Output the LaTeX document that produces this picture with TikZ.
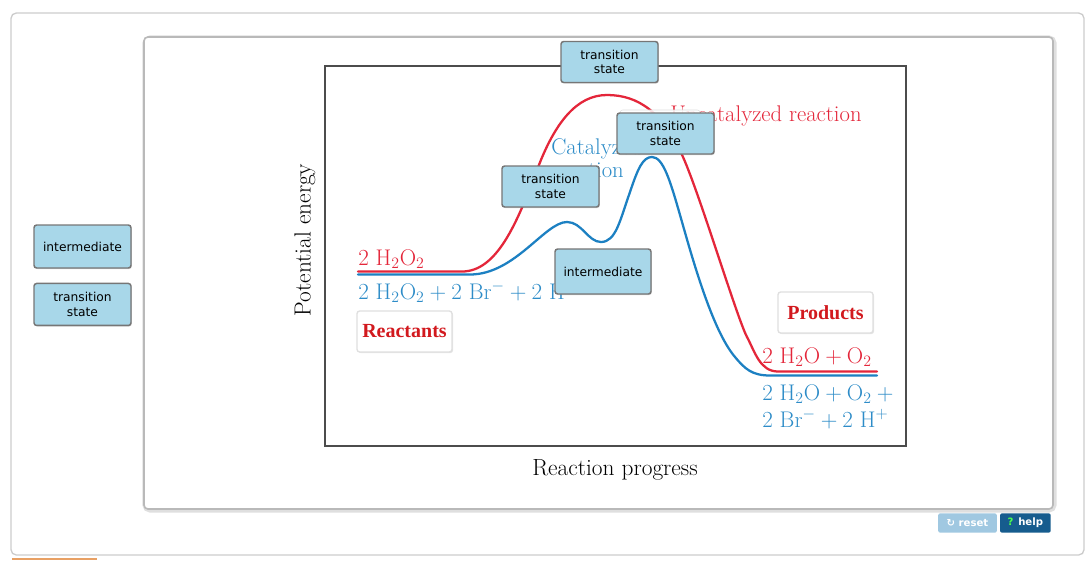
\documentclass[tikz,border=0pt]{standalone}
\usepackage{amsmath}
\usepackage{fontspec}
\usepackage{tikz}
\usetikzlibrary{
    positioning,   % Relative positioning
    shadows,       % Shadows under the label boxes
    backgrounds    % Background layers
}
\newfontfamily\boxfont{DejaVu Sans}
\newfontfamily\timesfont{Liberation Serif}
\definecolor{uncatred}{RGB}{228,38,58}
\definecolor{catblue}{RGB}{28,128,194}
\definecolor{labblue}{RGB}{45,140,200}
\definecolor{tsfill}{RGB}{168,215,233}
\definecolor{boxedge}{RGB}{118,118,118}
\definecolor{darkred}{RGB}{210,25,30}
\definecolor{helpblue}{RGB}{22,92,142}
\definecolor{resetblue}{RGB}{160,200,225}
\definecolor{tabline}{RGB}{232,160,100}

\tikzset{
    tsbox/.style={draw=boxedge, fill=tsfill, line width=1.1pt, rounded corners=2pt,
        align=center, font=\boxfont\fontsize{9.2}{11}\selectfont, inner sep=1pt,
        drop shadow={shadow xshift=0.6pt, shadow yshift=-0.8pt, opacity=0.35},
        minimum width=72.75pt, minimum height=30.75pt},
    dropbox/.style={draw=gray!25, fill=white, line width=1pt, rounded corners=2pt,
        drop shadow={shadow xshift=0.8pt, shadow yshift=-0.8pt, opacity=0.2},
        minimum width=71.25pt, minimum height=30.75pt,
        font=\timesfont\bfseries\fontsize{15}{18}\selectfont, text=darkred},
    chem/.style={anchor=base west, inner sep=0pt, font=\fontsize{17}{20}\selectfont},
    curve/.style={line width=1.7pt, line cap=round},
    axislabel/.style={font=\fontsize{17.5}{21}\selectfont, inner sep=0pt}
}

\begin{document}
\begin{tikzpicture}[x=0.75pt, y=-0.75pt]
    \useasboundingbox (0,0) rectangle (1088,561);

    % page frame and panel
    \draw[gray!40, line width=1pt, rounded corners=4pt] (11,13) rectangle (1084,555);
    \draw[tabline, line width=1.5pt] (12,559) -- (97,559);
    \draw[gray!25, line width=4pt, rounded corners=4pt] (145,38) rectangle (1054,510);
    \draw[gray!55, line width=1.2pt, rounded corners=3pt, fill=white] (144,37) rectangle (1053,509);

    % plot area
    \draw[black!70, line width=0.9pt] (325,66) rectangle (906,446);
    \node[axislabel, rotate=90] (ylab) at (305,240) {Potential energy};
    \node[axislabel] (xlab) at (615,470) {Reaction progress};

    % uncatalyzed reaction
    \draw[curve, uncatred] (358,271.5) -- (462,271.5)
        .. controls (497,271.5) and (517,223) .. (537,170)
        .. controls (555,122) and (577,95) .. (607,95)
        .. controls (638,95) and (663,112) .. (683,157)
        .. controls (700,195) and (737,318) .. (747,337)
        .. controls (755,352) and (760,371.5) .. (778,371.5) -- (877,371.5);
    % catalyzed reaction
    \draw[curve, catblue] (358,274.5) -- (470,274.5)
        .. controls (515,274.5) and (545,222) .. (567,222)
        .. controls (582,222) and (588,242) .. (601,242)
        .. controls (616,242) and (620,220) .. (630,192)
        .. controls (638,168) and (643,157) .. (652,157)
        .. controls (663,157) and (670,180) .. (680,215)
        .. controls (692,257) and (712,330) .. (735,357)
        .. controls (745,369) and (752,375.5) .. (770,375.5) -- (877,375.5);

    % equation labels
    \node[chem, text=uncatred] (reacRed) at (358,265) {$2\ \mathrm{H_2O_2}$};
    \node[chem, text=labblue] (reacBlue) at (358,299)
        {$2\ \mathrm{H_2O_2} + 2\ \mathrm{Br^-} + 2\ \mathrm{H^+}$};
    \node[chem, text=uncatred] (prodRed) at (762,363) {$2\ \mathrm{H_2O} + \mathrm{O_2}$};
    \node[chem, text=labblue] (prodBlueA) at (762,400) {$2\ \mathrm{H_2O} + \mathrm{O_2} +{}$};
    \node[chem, text=labblue] (prodBlueB) at (762,427) {$2\ \mathrm{Br^-} + 2\ \mathrm{H^+}$};
    \node[chem, text=uncatred] (uncatLab) at (670,121) {Uncatalyzed reaction};
    \node[chem, text=labblue] (catLabA) at (551,154) {Catalyzed};
    \node[chem, text=labblue] (catLabB) at (551,177) {reaction};

    % drop targets
    \node[draw=gray!25, fill=white, fill opacity=0.85, rounded corners=2pt,
        minimum width=60pt, minimum height=30pt] (uncatBox) at (660,130) {};
    \node[dropbox] (reactBox) at (404.5,331.5) {Reactants};
    \node[dropbox] (prodBox) at (825.5,312.5) {Products};

    % placed labels
    \node[tsbox] (tsTop) at (609.5,62) {transition\\state};
    \node[tsbox] (tsCat) at (665.5,133.5) {transition\\state};
    \node[tsbox] (tsLow) at (550.5,186.5) {transition\\state};
    \node[tsbox, minimum width=72pt, minimum height=33.75pt] (interCat) at (603,271.5) {intermediate};

    % label palette
    \node[tsbox, minimum height=32.25pt] (palInter) at (82.5,246.5) {intermediate};
    \node[tsbox, minimum height=31.5pt, below=10.5pt of palInter] (palTS) {transition\\state};

    % buttons
    \node[fill=resetblue, rounded corners=1.5pt, text=white, inner sep=0pt,
        minimum width=44pt, minimum height=14.5pt,
        font=\boxfont\bfseries\fontsize{7.6}{9}\selectfont] (resetBtn) at (967.5,523) {↻ reset};
    \node[fill=helpblue, rounded corners=1.5pt, text=white, inner sep=0pt,
        minimum width=38pt, minimum height=14.5pt, right=2pt of resetBtn,
        font=\boxfont\bfseries\fontsize{7.6}{9}\selectfont] (helpBtn)
        {\textcolor{green!70!white}{?} help};
\end{tikzpicture}
\end{document}
